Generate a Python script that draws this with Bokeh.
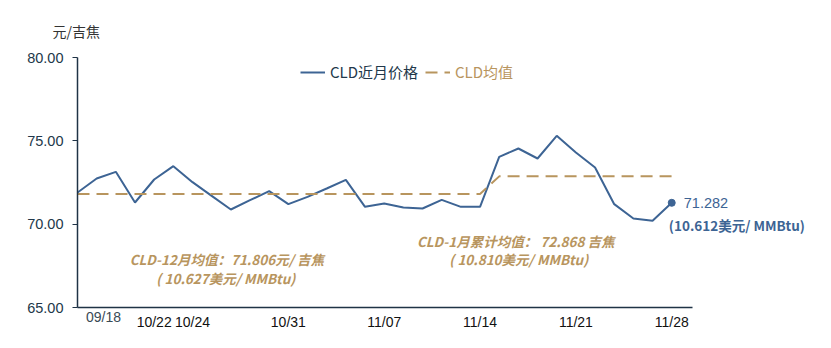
from bokeh.plotting import figure
from bokeh.models import (ColumnDataSource, FixedTicker, Label, Legend, LegendItem,
                          NumeralTickFormatter, Range1d, LinearAxis)
from bokeh.embed import file_html
from bokeh.resources import INLINE

# ---- data ----
dates = ["10/16", "10/17", "10/18", "10/21", "10/22", "10/23", "10/24", "10/25",
         "10/28", "10/29", "10/30", "10/31", "11/01", "11/04", "11/05", "11/06",
         "11/07", "11/08", "11/11", "11/12", "11/13", "11/14", "11/15", "11/18",
         "11/19", "11/20", "11/21", "11/22", "11/25", "11/26", "11/27", "11/28"]
price = [71.90, 72.74, 73.14, 71.30, 72.68, 73.48, 72.52, 71.70,
         70.88, 71.44, 71.98, 71.20, 71.64, 72.14, 72.66, 71.04,
         71.24, 71.00, 70.94, 71.46, 71.04, 71.04, 74.04, 74.54,
         73.94, 75.30, 74.30, 73.40, 71.20, 70.34, 70.20, 71.282]
avg = [71.806] * 22 + [72.868] * 10
tick_dates = ["10/22", "10/24", "10/31", "11/07", "11/14", "11/21", "11/28"]
extra_tick = "09/18"
extra_tick_pos = 1.36
y_ticks = [65, 70, 75, 80]

x = list(range(len(dates)))
src = ColumnDataSource(dict(x=x, price=price, avg=avg))

BLUE = "#3d6494"
GOLD = "#b8955e"
AXIS = "#1f3346"
X_END = 32.1

p = figure(width=831, height=348, output_backend="svg", toolbar_location=None,
           x_range=Range1d(0, 38.5), y_range=Range1d(65, 80),
           min_border_left=77, min_border_right=16, min_border_top=57,
           min_border_bottom=41)
p.outline_line_color = None
p.xgrid.visible = False
p.ygrid.visible = False
p.background_fill_color = "white"
p.border_fill_color = "white"

p.title.text = "元/吉焦"
p.title.align = "left"
p.title.offset = -25
p.title.standoff = 33
p.title.text_font = "Noto Sans CJK SC"
p.title.text_font_size = "14px"
p.title.text_font_style = "normal"
p.title.text_color = "#333333"

l1 = p.line("x", "price", source=src, line_color=BLUE, line_width=2)
l2 = p.line("x", "avg", source=src, line_color=GOLD, line_width=2, line_dash="12 7")
p.scatter([x[-1]], [price[-1]], size=7, color=BLUE)

# y axis
p.yaxis.ticker = FixedTicker(ticks=y_ticks)
p.yaxis.formatter = NumeralTickFormatter(format="0.00")
p.yaxis.axis_line_color = AXIS
p.yaxis.axis_line_width = 1.5
p.yaxis.major_tick_line_color = AXIS
p.yaxis.major_tick_out = 5
p.yaxis.major_tick_in = 0
p.yaxis.minor_tick_line_color = None
p.yaxis.major_label_text_font = "Liberation Sans"
p.yaxis.major_label_text_font_size = "14.5px"
p.yaxis.major_label_text_color = "#22384a"
p.yaxis.major_label_standoff = 9

# x axis
tick_pos = [dates.index(d) for d in tick_dates]
p.xaxis.ticker = FixedTicker(ticks=tick_pos)
p.xaxis.major_label_overrides = {i: dates[i] for i in tick_pos}
p.xaxis.bounds = (0, X_END)
p.xaxis.axis_line_color = AXIS
p.xaxis.axis_line_width = 1.5
p.xaxis.major_tick_line_color = None
p.xaxis.minor_tick_line_color = None
p.xaxis.major_label_text_font = "Liberation Sans"
p.xaxis.major_label_text_font_size = "14px"
p.xaxis.major_label_text_color = "#111111"
p.xaxis.major_label_standoff = 0

ax2 = LinearAxis(ticker=FixedTicker(ticks=[extra_tick_pos]),
                 major_label_overrides={extra_tick_pos: extra_tick})
ax2.axis_line_color = None
ax2.major_tick_line_color = None
ax2.minor_tick_line_color = None
ax2.major_label_text_font = "Liberation Sans"
ax2.major_label_text_font_size = "14px"
ax2.major_label_text_color = "#3a4a55"
ax2.major_label_standoff = -30
p.add_layout(ax2, "below")

# legends
leg1 = Legend(items=[LegendItem(label="CLD近月价格", renderers=[l1])],
              location=(223, 225), orientation="horizontal")
leg2 = Legend(items=[LegendItem(label="CLD均值", renderers=[l2])],
              location=(348, 225), orientation="horizontal")
for lg, col in ((leg1, "#22384a"), (leg2, GOLD)):
    lg.label_text_font = "Noto Sans CJK SC"
    lg.label_text_font_size = "15px"
    lg.label_text_color = col
    lg.glyph_width = 25
    lg.label_standoff = 5
    lg.padding = 0
    lg.margin = 0
    lg.border_line_color = None
    lg.background_fill_alpha = 0
    p.add_layout(lg)

def lab(xv, yv, text, color, size="13.5px", style="normal", align="center", font="Noto Sans CJK SC"):
    p.add_layout(Label(x=xv, y=yv, text=text, text_color=color, text_font_size=size,
                       text_font_style=style, text_align=align, text_baseline="middle",
                       text_font=font))

lab(7.79, 67.92, "CLD-12月均值：71.806元/ 吉焦", GOLD, style="bold italic")
lab(7.74, 66.78, "( 10.627美元/ MMBtu)", GOLD, style="bold italic")
lab(23.02, 69.0, "CLD-1月累计均值：   72.868 吉焦", GOLD, style="bold italic")
lab(23.02, 67.92, "( 10.810美元/ MMBtu)", GOLD, style="bold italic")
lab(31.63, 71.28, "71.282", BLUE, size="14.5px", align="left", font="Liberation Sans")
lab(30.85, 69.96, "(10.612美元/ MMBtu)", BLUE, style="bold", align="left")

open("out.html", "w").write(file_html(p, INLINE))
